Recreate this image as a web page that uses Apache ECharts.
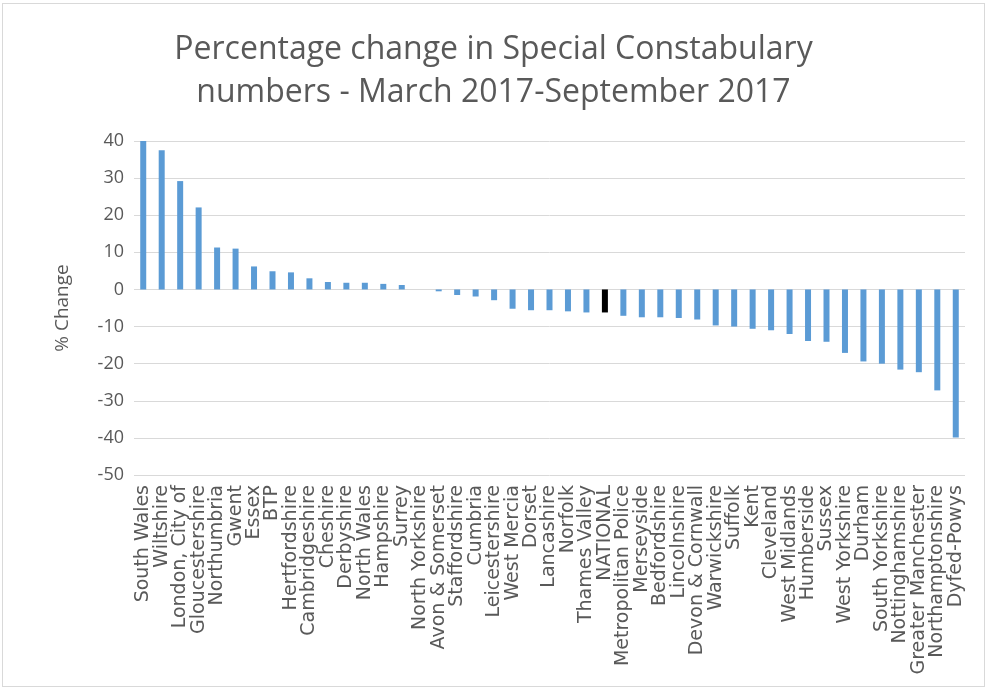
<!DOCTYPE html>
<html>
<head>
<meta charset="utf-8">
<script src="https://cdn.jsdelivr.net/npm/echarts@6/dist/echarts.min.js"></script>
<style>
html,body{margin:0;padding:0;background:#fff;}
#c{position:absolute;left:2px;top:3px;width:983px;height:684px;border:1px solid #d9d9d9;box-sizing:border-box;}
</style>
</head>
<body>
<div id="c"></div>
<script>
const titleText = 'Percentage change in Special Constabulary\nnumbers - March 2017-September 2017';
const yAxisName = '% Change';
const categories = ['South Wales','Wiltshire','London, City of','Gloucestershire','Northumbria','Gwent','Essex','BTP','Hertfordshire','Cambridgeshire','Cheshire','Derbyshire','North Wales','Hampshire','Surrey','North Yorkshire','Avon & Somerset','Staffordshire','Cumbria','Leicestershire','West Mercia','Dorset','Lancashire','Norfolk','Thames Valley','NATIONAL','Metropolitan Police','Merseyside','Bedfordshire','Lincolnshire','Devon & Cornwall','Warwickshire','Suffolk','Kent','Cleveland','West Midlands','Humberside','Sussex','West Yorkshire','Durham','South Yorkshire','Nottinghamshire','Greater Manchester','Northamptonshire','Dyfed-Powys'];
const values = [40.0,37.5,29.2,22.1,11.3,11.0,6.2,4.9,4.6,3.0,2.0,1.8,1.8,1.5,1.2,0.0,-0.5,-1.5,-1.9,-2.9,-5.2,-5.6,-5.6,-5.9,-6.2,-6.2,-7.1,-7.5,-7.5,-7.7,-8.1,-9.7,-10.0,-10.6,-11.0,-12.0,-13.9,-14.1,-17.1,-19.4,-20.0,-21.6,-22.3,-27.2,-39.9];
const highlight = 'NATIONAL';
const yMin = -50, yMax = 40, yStep = 10;

const chart = echarts.init(document.getElementById('c'), null, {renderer:'canvas'});
chart.setOption({
  animation:false,
  title:{
    text:titleText, left:'center', top:19,
    textStyle:{fontFamily:'Open Sans', fontSize:32, fontWeight:'normal', color:'#595959', lineHeight:43}
  },
  grid:{left:131, right:19, top:137, bottom:211, containLabel:false},
  xAxis:{
    type:'category', data:categories,
    axisLine:{show:false}, axisTick:{show:false},
    axisLabel:{rotate:90, interval:0, margin:10, fontFamily:'"DejaVu Sans", sans-serif', fontSize:19, color:'#595959'}
  },
  yAxis:{
    type:'value', min:yMin, max:yMax, interval:yStep,
    name:yAxisName, nameLocation:'middle', nameGap:62, nameRotate:90,
    nameTextStyle:{fontFamily:'Open Sans', fontSize:19, color:'#595959'},
    axisLine:{show:false}, axisTick:{show:false},
    axisLabel:{fontFamily:'Open Sans', fontSize:18, color:'#595959', margin:10},
    splitLine:{lineStyle:{color:'#d9d9d9', width:1}}
  },
  series:[{
    type:'bar', barWidth:6,
    data:values.map((v,i)=>({value:v, itemStyle:{color: categories[i]===highlight ? '#000000' : '#5B9BD5'}}))
  }]
});
</script>
</body>
</html>
